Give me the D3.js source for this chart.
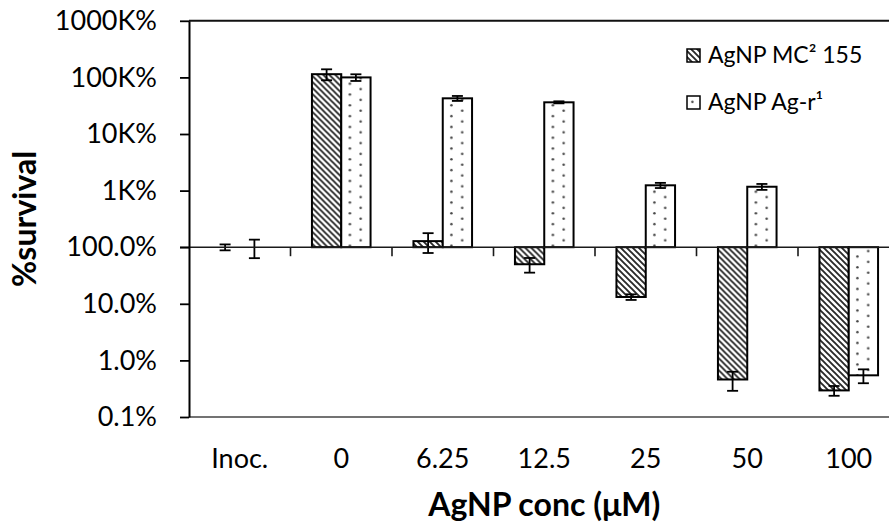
<!DOCTYPE html>
<html>
<head>
<meta charset="utf-8">
<script src="https://cdn.jsdelivr.net/npm/d3@7/dist/d3.min.js"></script>
<style>
  html, body { margin: 0; padding: 0; background: #fff; }
  svg { display: block; }
  text { font-family: Lato, "Open Sans", sans-serif; fill: #000; }
</style>
</head>
<body>
<svg id="chart" width="889" height="529"></svg>
<script>
const categories = ["Inoc.", "0", "6.25", "12.5", "25", "50", "100"];
const seriesNames = ["AgNP MC² 155", "AgNP Ag-r¹"];
const mc2Values = [100, 114000, 128, 50, 13.2, 0.46, 0.295];
const mc2Errors = [12, 25000, 49, 14.5, 1.5, 0.17, 0.058];
const agrValues = [100, 100000, 42700, 36300, 1240, 1170, 0.545];
const agrErrors = [36, 13500, 4300, 1500, 130, 140, 0.15];
const yTickValues = [1e6, 1e5, 1e4, 1e3, 100, 10, 1, 0.1];
const yTickLabels = ["1000K%", "100K%", "10K%", "1K%", "100.0%", "10.0%", "1.0%", "0.1%"];
const xTitle = "AgNP conc (μM)";
const yTitle = "%survival";

(function () {
const svg = d3.select("#chart");
const pLeft = 189, pRight = 899.5, pTop = 20.8, pBottom = 417;
const baseValue = 100;

const y = d3.scaleLog().domain([0.1, 1e6]).range([pBottom, pTop]);
const x0 = d3.scaleBand().domain(categories).range([pLeft, pRight]).padding(0);
const x1 = d3.scaleBand().domain(seriesNames).range([0, x0.bandwidth()]).paddingInner(0).paddingOuter(0.732);

// patterns
const defs = svg.append("defs");
const hatch = defs.append("pattern").attr("id", "hatch").attr("patternUnits", "userSpaceOnUse")
  .attr("width", 6).attr("height", 6);
hatch.append("rect").attr("width", 6).attr("height", 6).attr("fill", "#fff");
hatch.append("path").attr("d", "M0,0 L6,6 M-3,3 L3,9 M3,-3 L9,3")
  .attr("stroke", "#2a2a2a").attr("stroke-width", 1.9);
const dots = defs.append("pattern").attr("id", "dots").attr("patternUnits", "userSpaceOnUse")
  .attr("width", 21.6).attr("height", 10.8);
dots.append("rect").attr("width", 21.6).attr("height", 10.8).attr("fill", "#fff");
dots.append("circle").attr("cx", 5.4).attr("cy", 2.7).attr("r", 1.25).attr("fill", "#444");
dots.append("circle").attr("cx", 16.2).attr("cy", 8.1).attr("r", 1.25).attr("fill", "#444");
const fills = ["url(#hatch)", "url(#dots)"];

const data = categories.map((c, i) => ({
  cat: c,
  items: [
    { s: seriesNames[0], v: mc2Values[i], e: mc2Errors[i], f: fills[0] },
    { s: seriesNames[1], v: agrValues[i], e: agrErrors[i], f: fills[1] }
  ]
}));

// plot frame lines
svg.append("line").attr("x1", pLeft).attr("x2", pRight).attr("y1", pTop).attr("y2", pTop)
  .attr("stroke", "#111").attr("stroke-width", 2);
svg.append("line").attr("x1", pLeft).attr("x2", pRight).attr("y1", pBottom).attr("y2", pBottom)
  .attr("stroke", "#444").attr("stroke-width", 1.6);

// bars
const groups = svg.append("g").selectAll("g").data(data).join("g")
  .attr("transform", d => `translate(${x0(d.cat)},0)`);
groups.selectAll("rect").data(d => d.items.filter(it => it.v !== baseValue)).join("rect")
  .attr("x", d => x1(d.s))
  .attr("width", x1.bandwidth())
  .attr("y", d => Math.min(y(d.v), y(baseValue)))
  .attr("height", d => Math.abs(y(d.v) - y(baseValue)))
  .attr("fill", d => d.f)
  .attr("stroke", "#000").attr("stroke-width", 2);

// horizontal axis at 100%
const y100 = y(baseValue);
svg.append("line").attr("x1", pLeft - 9).attr("x2", pRight).attr("y1", y100).attr("y2", y100)
  .attr("stroke", "#1a1a1a").attr("stroke-width", 1.6);
const bounds = categories.slice(1).map(c => x0(c));
svg.append("g").selectAll("line").data(bounds).join("line")
  .attr("x1", d => d).attr("x2", d => d).attr("y1", y100).attr("y2", y100 + 9)
  .attr("stroke", "#1a1a1a").attr("stroke-width", 1.6);

// error bars
const eb = groups.selectAll("g.err").data(d => d.items).join("g").attr("class", "err");
const cap = 5.5;
const cx = d => x1(d.s) + x1.bandwidth() / 2;
eb.append("line")
  .attr("x1", cx).attr("x2", cx)
  .attr("y1", d => y(d.v + d.e)).attr("y2", d => y(d.v - d.e))
  .attr("stroke", "#000").attr("stroke-width", 1.8);
eb.append("line")
  .attr("x1", d => cx(d) - cap).attr("x2", d => cx(d) + cap)
  .attr("y1", d => y(d.v + d.e)).attr("y2", d => y(d.v + d.e))
  .attr("stroke", "#000").attr("stroke-width", 1.8);
eb.append("line")
  .attr("x1", d => cx(d) - cap).attr("x2", d => cx(d) + cap)
  .attr("y1", d => y(d.v - d.e)).attr("y2", d => y(d.v - d.e))
  .attr("stroke", "#000").attr("stroke-width", 1.8);

// y axis
const yAxis = d3.axisLeft(y).tickValues(yTickValues)
  .tickFormat((d, i) => yTickLabels[i]).tickSize(9).tickSizeOuter(0).tickPadding(23);
const gy = svg.append("g").attr("transform", `translate(${pLeft},0)`).call(yAxis);
gy.select(".domain").attr("stroke", "#000").attr("stroke-width", 2);
gy.selectAll(".tick line").attr("stroke", "#000").attr("stroke-width", 1.8);
gy.selectAll(".tick text").attr("font-family", "Lato").attr("font-size", 27).attr("fill", "#000");

// x labels
const xAxis = d3.axisBottom(x0).tickSize(0).tickPadding(0);
const gx = svg.append("g").attr("transform", `translate(0,${pBottom})`).call(xAxis);
gx.select(".domain").remove();
gx.selectAll(".tick text").attr("font-family", "Lato").attr("font-size", 27).attr("fill", "#000")
  .attr("dy", null).attr("y", 468 - pBottom);

// titles
svg.append("text").attr("x", (pLeft + pRight) / 2).attr("y", 516).attr("text-anchor", "middle")
  .attr("font-size", 32).attr("font-weight", "bold").text(xTitle);
svg.append("text").attr("transform", `translate(36,${(pTop + pBottom) / 2}) rotate(-90)`)
  .attr("text-anchor", "middle").attr("font-size", 32).attr("font-weight", "bold").text(yTitle);

// legend
const legend = svg.append("g").selectAll("g").data(seriesNames).join("g")
  .attr("transform", (d, i) => `translate(687,${63 + i * 47})`);
legend.append("rect").attr("x", 0).attr("y", -14).attr("width", 13).attr("height", 13)
  .attr("fill", (d, i) => fills[i]).attr("stroke", "#000").attr("stroke-width", 1.5);
legend.append("text").attr("x", 21).attr("y", 0).attr("font-size", 23).text(d => d);
})();
</script>
</body>
</html>
